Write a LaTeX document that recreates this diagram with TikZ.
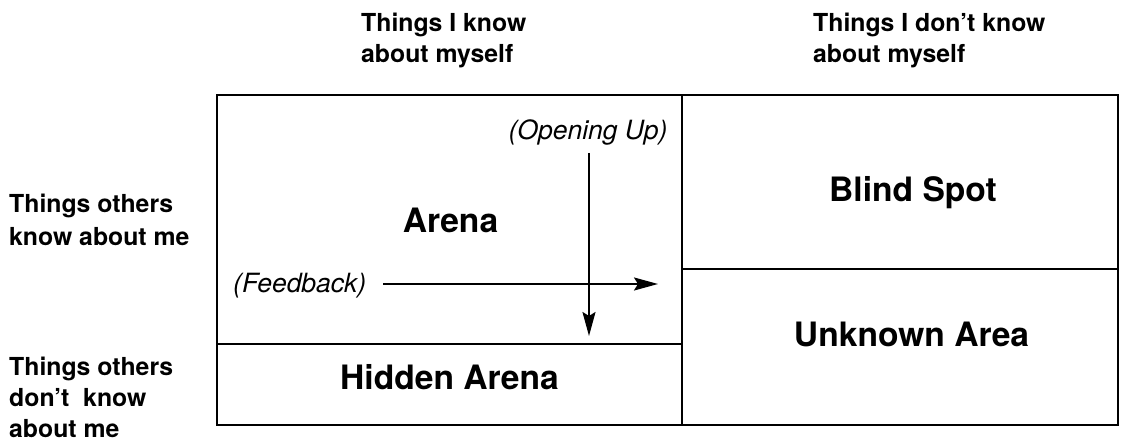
\documentclass[tikz,border=0pt]{standalone}
\usepackage{fontspec}
\setmainfont{TeX Gyre Heros}
\usetikzlibrary{arrows.meta}

\begin{document}
\begin{tikzpicture}[x=1pt,y=-1pt,
  frame/.style={line width=2.6pt, line cap=rect},
  flow/.style={line width=2pt, -{Stealth[length=24pt,width=13pt,inset=4pt]}},
  small/.style={font=\fontsize{24.8}{31}\selectfont\bfseries, align=left,
                inner sep=0pt, anchor=base west},
  big/.style={font=\fontsize{33.6}{38}\selectfont\bfseries, inner sep=0pt, anchor=base},
  note/.style={font=\fontsize{26.5}{30}\selectfont\itshape, inner sep=0pt, anchor=base}]
\useasboundingbox (0,0) rectangle (1135,446);

% grid corners
\coordinate (nw) at (217,95);
\coordinate (se) at (1118,425);
\coordinate (midtop) at (682,95);
\coordinate (midbot) at (682,425);
\coordinate (leftdivW) at (217,344);
\coordinate (leftdivE) at (682,344);
\coordinate (rightdivW) at (682,269);
\coordinate (rightdivE) at (1118,269);

\draw[frame] (nw) rectangle (se);
\draw[frame] (midtop) -- (midbot);
\draw[frame] (leftdivW) -- (leftdivE);
\draw[frame] (rightdivW) -- (rightdivE);

% column headings (anchored at the baseline of their last line)
\node[small] (colknow) at (361,63) {Things I know\\about myself};
\node[small] (colnotknow) at (813,63) {Things I don’t know\\about myself};

% row headings
\node[small, font=\fontsize{24.8}{33}\selectfont\bfseries] (rowknow) at (9,246)
  {Things others\\know about me};
\node[small] (rownotknow) at (9,437) {Things others\\don’t\ \ know\\about me};

% quadrant names
\node[big] (arena) at (450.5,233) {Arena};
\node[big] (hidden) at (449.5,389) {Hidden Arena};
\node[big] (blind) at (913,202) {Blind Spot};
\node[big] (unknown) at (911.5,346) {Unknown Area};

% movement labels and arrows
\node[note] (opening) at (588,140) {(Opening Up)};
\node[note, anchor=base west] (feedback) at (233,293) {(Feedback)};

\coordinate (openstart) at (589,153);
\coordinate (openend) at (589,336);
\coordinate (feedstart) at (383,284);
\coordinate (feedend) at (658,284);

\draw[flow] (openstart) -- (openend);
\draw[flow] (feedstart) -- (feedend);
\end{tikzpicture}
\end{document}
